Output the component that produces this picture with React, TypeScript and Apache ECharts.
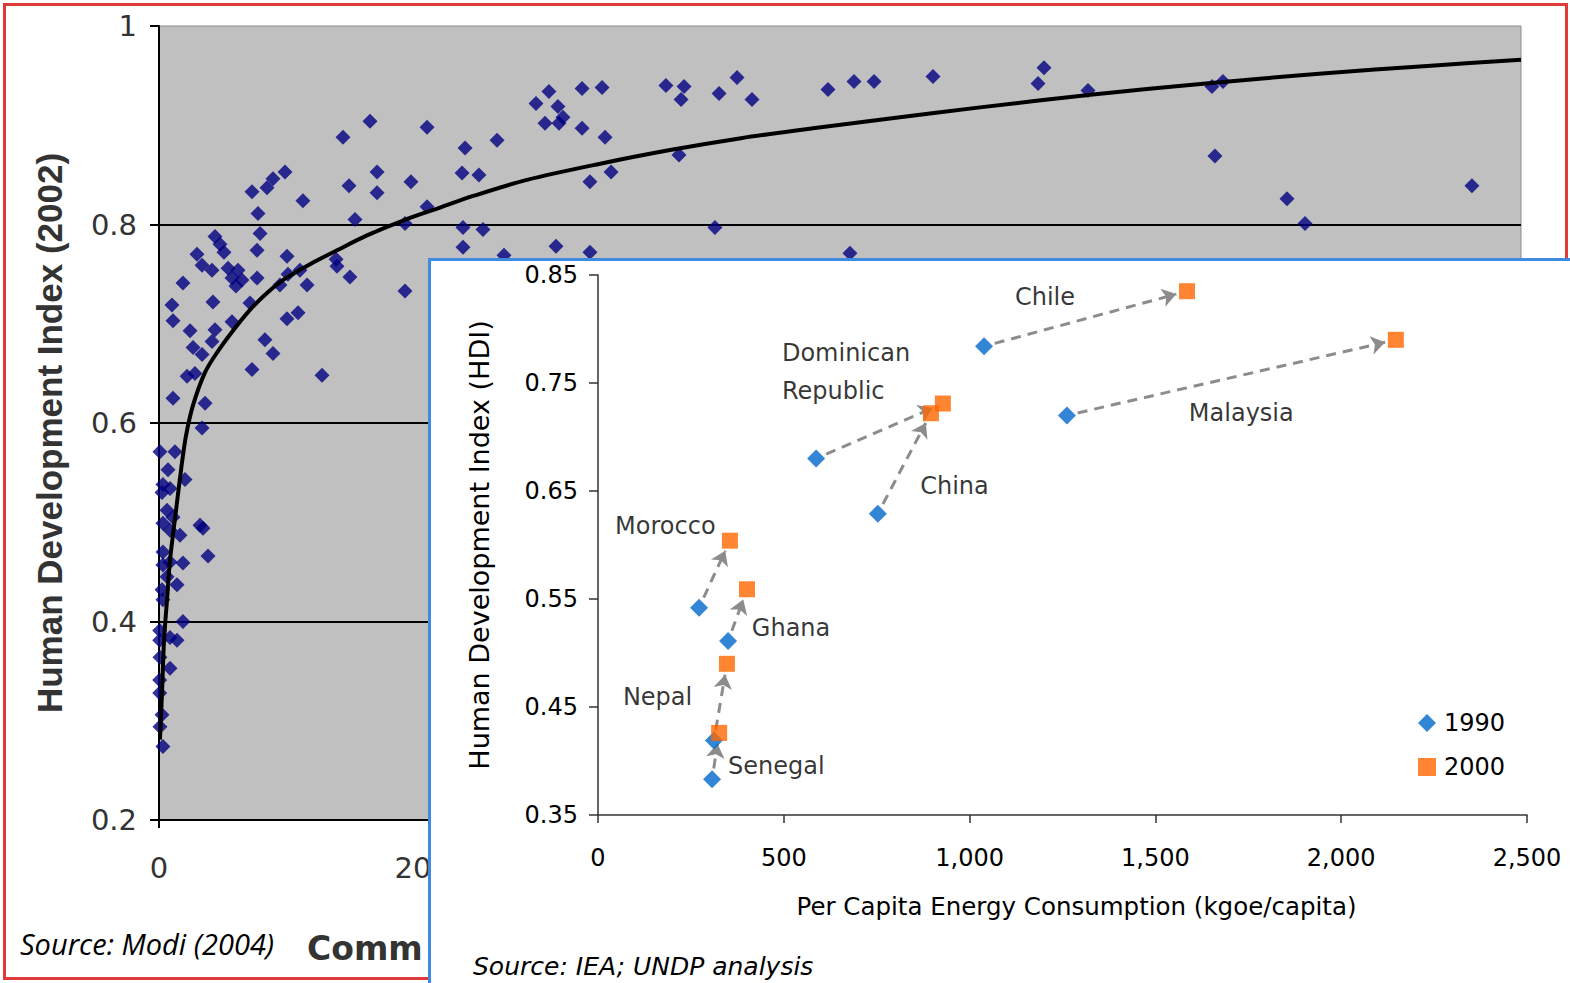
import { useEffect, useRef } from 'react';
import * as echarts from 'echarts';

// ---------- Background chart (Modi 2004): HDI vs commercial energy use ----------
const bgEnergy = [
  1549, 1351, 1968, 925, 837, 793, 683, 1057, 727, 1395, 1601, 1601, 1850, 1968, 1439, 1806,
  411, 448, 742, 279, 477, 720, 940, 1300, 1307, 1402, 1806, 316, 389, 507, 580, 536, 609, 565,
  720, 176, 1087, 888, 396, 668, 95, 103, 940, 1021, 536, 228, 411, 389, 778, 837, 250, 316,
  683, 1197, 206, 264, 103, 338, 316, 7, 117, 66, 191, 29, 81, 22, 59, 103, 29, 81, 154, 301,
  323, 360, 29, 81, 176, 29, 59, 22, 132, 29, 176, 5, 5, 81, 132, 7, 81, 5, 5, 22, 7, 29,
  947, 1035, 2247, 2482, 2225, 2349, 2232, 2379, 2232, 2533, 2915, 3164, 5073, 2768, 2863,
  2929, 2966, 2834, 2937, 3106, 3253, 3106, 3275, 3722, 3855, 3833, 4112, 4244, 4354, 4912,
  5103, 5250, 5683, 3164, 3319, 3818, 4082, 6498, 6454, 6821, 7731, 7812, 7753, 8282, 8414, 9640,
];
const bgHdi = [
  0.904, 0.888, 0.898, 0.853, 0.846, 0.837, 0.833, 0.824, 0.811, 0.839, 0.853, 0.832, 0.843, 0.818, 0.805, 0.801,
  0.788, 0.78, 0.791, 0.77, 0.772, 0.774, 0.768, 0.765, 0.758, 0.747, 0.733, 0.759, 0.754, 0.756, 0.754, 0.746, 0.744, 0.738,
  0.746, 0.741, 0.739, 0.739, 0.722, 0.721, 0.719, 0.703, 0.705, 0.711, 0.702, 0.693, 0.694, 0.682, 0.684, 0.67, 0.676, 0.669,
  0.654, 0.648, 0.647, 0.65, 0.625, 0.62, 0.595, 0.571, 0.571, 0.553, 0.543, 0.538, 0.534, 0.53, 0.512, 0.505, 0.499, 0.492, 0.487, 0.497,
  0.494, 0.466, 0.47, 0.46, 0.459, 0.457, 0.445, 0.432, 0.437, 0.422, 0.4, 0.391, 0.381, 0.384, 0.381, 0.364, 0.353, 0.341, 0.328, 0.306, 0.294, 0.274,
  0.75, 0.754, 0.877, 0.885, 0.852, 0.85, 0.797, 0.795, 0.777, 0.769, 0.778, 0.772, 0.771, 0.922, 0.934,
  0.919, 0.908, 0.902, 0.902, 0.937, 0.938, 0.897, 0.888, 0.94, 0.939, 0.926, 0.932, 0.948, 0.926, 0.936,
  0.944, 0.944, 0.949, 0.843, 0.853, 0.87, 0.797, 0.958, 0.942, 0.935, 0.939, 0.944, 0.869, 0.826, 0.801, 0.839,
];
// trend curve
const trendEnergy = [
  7, 22, 37, 59, 81, 125, 162, 198, 250, 338, 426, 543, 668, 793, 910, 1109, 1307, 1527, 1791,
  2063, 2313, 2702, 3231, 3752, 4273, 4802, 5323, 6028, 6857, 7687, 8517, 9339, 10000,
];
const trendHdi = [
  0.281, 0.328, 0.381, 0.422, 0.462, 0.512, 0.553, 0.587, 0.618, 0.651, 0.671, 0.693, 0.714, 0.731, 0.744, 0.76, 0.774, 0.789, 0.804,
  0.817, 0.829, 0.845, 0.861, 0.875, 0.887, 0.897, 0.906, 0.918, 0.931, 0.942, 0.952, 0.96, 0.966,
];
const bgXTickLabels = ['0', '2000'];

// ---------- Inset chart: 1990 -> 2000 movement by country ----------
const countries = ['Chile', 'Malaysia', 'Dominican Republic', 'China', 'Morocco', 'Ghana', 'Nepal', 'Senegal'];
const energy1990 = [1039, 1262, 587, 753, 272, 350, 312, 307];
const hdi1990 = [0.784, 0.72, 0.68, 0.629, 0.542, 0.511, 0.419, 0.383];
const energy2000 = [1585, 2147, 928, 896, 355, 401, 347, 326];
const hdi2000 = [0.835, 0.79, 0.731, 0.722, 0.604, 0.559, 0.49, 0.426];

// annotation anchors (left edge / vertical middle of each country label)
const labelNames = ['Chile', 'Dominican\nRepublic', 'Malaysia', 'China', 'Morocco', 'Ghana', 'Nepal', 'Senegal'];
const labelEnergy = [1122, 495, 1590, 867, 46, 414, 67, 350];
const labelHdi = [0.83, 0.76, 0.722, 0.655, 0.618, 0.523, 0.459, 0.395];

const insetYTicks = [0.35, 0.45, 0.55, 0.65, 0.75, 0.85];

export default function App() {
  const bgRef = useRef<HTMLDivElement>(null);
  const insetRef = useRef<HTMLDivElement>(null);

  useEffect(() => {
    const bg = echarts.init(bgRef.current!, null, { renderer: 'svg' });
    const inset = echarts.init(insetRef.current!, null, { renderer: 'svg' });

    bg.setOption({
      animation: false,
      grid: {
        left: 159, top: 26, width: 1362, height: 794,
        show: true, backgroundColor: '#c0c0c0', borderColor: '#8c8c8c', borderWidth: 1,
        outerBoundsMode: 'none',
      },
      xAxis: {
        type: 'value', min: 0, max: 10000, interval: 2000,
        axisLine: { show: true, onZero: false, lineStyle: { color: '#000', width: 2 } },
        axisTick: { show: true, length: 8, lineStyle: { color: '#000', width: 2 } },
        axisLabel: {
          fontSize: 29, fontFamily: 'DejaVu Sans', color: '#333', margin: 33,
          // only the first two tick labels are visible; the rest lie under the inset
          formatter: (v: number) => (bgXTickLabels.includes(String(v)) ? String(v) : ''),
        },
        splitLine: { show: false },
      },
      yAxis: {
        type: 'value', min: 0.2, max: 1, interval: 0.2,
        name: 'Human Development Index (2002)',
        nameLocation: 'middle', nameGap: 92,
        nameTextStyle: { fontSize: 35, fontWeight: 'bold', fontFamily: 'Liberation Sans', color: '#333', padding: [0, 20, 0, 0] },
        axisLine: { show: true, onZero: false, lineStyle: { color: '#000', width: 2 } },
        axisTick: { show: true, length: 9, lineStyle: { color: '#000', width: 2 } },
        axisLabel: {
          fontSize: 29, fontFamily: 'DejaVu Sans', color: '#333', margin: 22,
          formatter: (v: number) => (Math.abs(v - 1) < 1e-9 ? '1' : v.toFixed(1)),
        },
        splitLine: { show: true, showMinLine: false, showMaxLine: false, lineStyle: { color: '#000', width: 2 } },
      },
      series: [
        {
          type: 'scatter', name: 'countries', symbol: 'diamond', symbolSize: 15,
          itemStyle: { color: '#000080' },
          data: bgEnergy.map((e, i) => [e, bgHdi[i]]),
          z: 2,
        },
        {
          type: 'line', name: 'trend', showSymbol: false, smooth: 0.3,
          lineStyle: { color: '#000', width: 4 },
          data: trendEnergy.map((e, i) => [e, trendHdi[i]]),
          z: 3,
        },
      ],
      graphic: [
        {
          type: 'rect', silent: true,
          shape: { x: 4.5, y: 4.5, width: 1562, height: 974 },
          style: { fill: 'none', stroke: '#e03a3a', lineWidth: 3 },
        },
        {
          type: 'text', x: 20, y: 943,
          style: {
            text: 'Source: Modi (2004)', fill: '#000', fontSize: 29, fontStyle: 'italic',
            fontFamily: 'Open Sans', textAlign: 'left', textVerticalAlign: 'middle',
          },
        },
        {
          type: 'text', x: 307, y: 948,
          style: {
            text: 'Commercial Energy Consumption', width: 121, overflow: 'truncate', ellipsis: '',
            fill: '#333', fontSize: 33, fontWeight: 'bold', fontFamily: 'DejaVu Sans',
            textAlign: 'left', textVerticalAlign: 'middle',
          },
        },
      ],
    });

    // shorten the arrows so they run from marker edge to marker edge
    const pxX = 929 / 2500;
    const pxY = 540 / 0.5;
    const arrowData = countries.map((c, i) => {
      const dx = (energy2000[i] - energy1990[i]) * pxX;
      const dy = (hdi2000[i] - hdi1990[i]) * pxY;
      const len = Math.hypot(dx, dy);
      const s0 = 11 / len;
      const s1 = 1 - 11 / len;
      return {
        name: c,
        coords: [
          [energy1990[i] + (energy2000[i] - energy1990[i]) * s0, hdi1990[i] + (hdi2000[i] - hdi1990[i]) * s0],
          [energy1990[i] + (energy2000[i] - energy1990[i]) * s1, hdi1990[i] + (hdi2000[i] - hdi1990[i]) * s1],
        ],
      };
    });

    const font = 'DejaVu Sans';
    inset.setOption({
      animation: false,
      grid: { left: 170, top: 17, width: 929, height: 540, outerBoundsMode: 'none' },
      legend: {
        orient: 'vertical', left: 985, top: 448,
        itemWidth: 18, itemHeight: 18, itemGap: 20,
        data: ['1990', '2000'],
        textStyle: { fontSize: 24, fontFamily: font, color: '#000', padding: [0, 0, 0, 3] },
      },
      xAxis: {
        type: 'value', min: 0, max: 2500, interval: 500,
        name: 'Per Capita Energy Consumption (kgoe/capita)',
        nameLocation: 'middle', nameGap: 79,
        nameTextStyle: { fontSize: 24.5, fontFamily: font, color: '#000', padding: [0, 0, 0, 28] },
        axisLine: { show: true, onZero: false, lineStyle: { color: '#333', width: 1.5 } },
        axisTick: { show: true, length: 8, lineStyle: { color: '#333', width: 1.5 } },
        axisLabel: {
          fontSize: 24, fontFamily: font, color: '#000', margin: 31,
          formatter: (v: number) => v.toLocaleString('en-US'),
        },
        splitLine: { show: false },
      },
      yAxis: {
        type: 'value', min: 0.35, max: 0.85,
        name: 'Human Development Index (HDI)',
        nameLocation: 'middle', nameGap: 105,
        nameTextStyle: { fontSize: 27, fontFamily: font, color: '#000' },
        axisLine: { show: true, onZero: false, lineStyle: { color: '#333', width: 1.5 } },
        axisTick: { show: true, length: 9, customValues: insetYTicks, lineStyle: { color: '#333', width: 1.5 } },
        axisLabel: {
          fontSize: 24, fontFamily: font, color: '#000', margin: 20, customValues: insetYTicks,
          formatter: (v: number) => v.toFixed(2),
        },
        splitLine: { show: false },
      },
      series: [
        {
          type: 'lines', coordinateSystem: 'cartesian2d', name: 'change',
          symbol: ['none', 'arrow'], symbolSize: 14,
          lineStyle: { color: '#8c8c8c', width: 3, type: [10, 7], opacity: 1, curveness: 0 },
          data: arrowData, z: 1, silent: true,
        },
        {
          type: 'scatter', name: '1990', symbol: 'diamond', symbolSize: 18,
          itemStyle: { color: '#0066cc' },
          data: energy1990.map((e, i) => [e, hdi1990[i]]), z: 3,
        },
        {
          type: 'scatter', name: '2000', symbol: 'rect', symbolSize: 16,
          itemStyle: { color: '#ff6600' },
          data: energy2000.map((e, i) => [e, hdi2000[i]]), z: 3,
        },
        {
          type: 'scatter', name: 'labels', symbolSize: 0, silent: true,
          label: {
            show: true, position: 'right', distance: 0, formatter: '{b}',
            fontSize: 24, fontFamily: font, color: '#000', lineHeight: 38, align: 'left',
          },
          data: labelNames.map((n, i) => ({ name: n, value: [labelEnergy[i], labelHdi[i]] })),
          z: 4,
        },
      ],
      graphic: [
        { type: 'rect', silent: true, shape: { x: 0, y: 0, width: 3, height: 725 }, style: { fill: '#3f8be0' } },
        { type: 'rect', silent: true, shape: { x: 0, y: 0, width: 1142, height: 3 }, style: { fill: '#3f8be0' } },
        {
          type: 'text', x: 45, y: 708,
          style: {
            text: 'Source: IEA; UNDP analysis', fill: '#000', fontSize: 25, fontStyle: 'italic',
            fontFamily: font, textAlign: 'left', textVerticalAlign: 'middle',
          },
        },
      ],
    });

    return () => {
      bg.dispose();
      inset.dispose();
    };
  }, []);

  return (
    <div style={{ position: 'fixed', left: 0, top: 0, width: 1570, height: 983, background: '#fff', overflow: 'hidden' }}>
      <div ref={bgRef} style={{ position: 'absolute', left: 0, top: 0, width: 1570, height: 983 }} />
      <div ref={insetRef} style={{ position: 'absolute', left: 428, top: 258, width: 1142, height: 725, background: '#fff' }} />
    </div>
  );
}
